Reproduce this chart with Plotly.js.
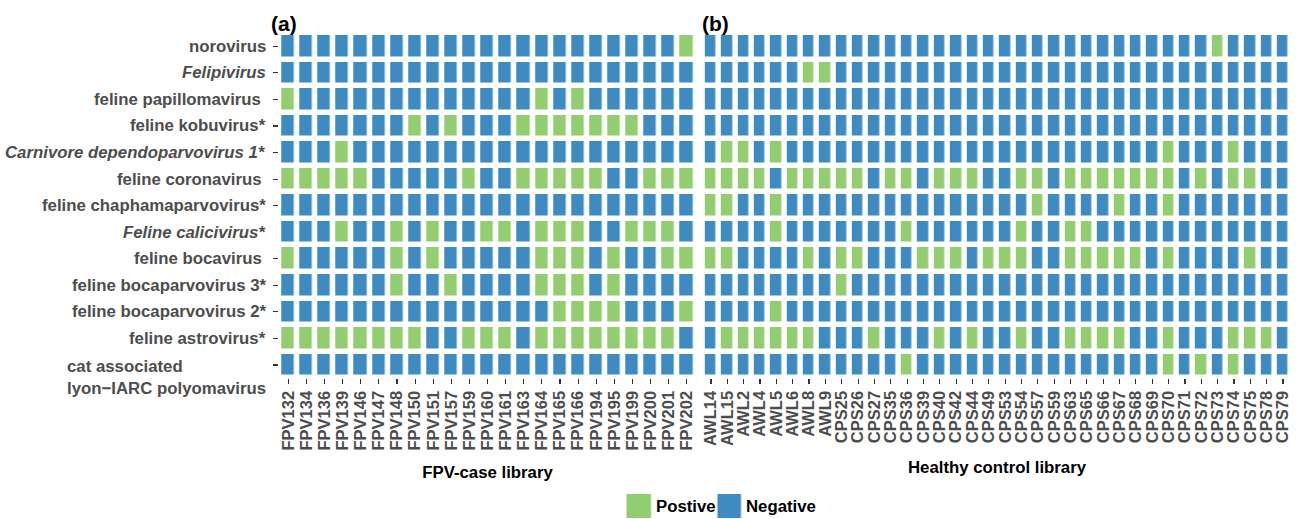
<!DOCTYPE html>
<html>
<head>
<meta charset="utf-8">
<script src="https://cdn.plot.ly/plotly-3.0.1.min.js"></script>
<style>html,body{margin:0;padding:0;background:#fff}#chart{width:1298px;height:519px}</style>
</head>
<body>
<div id="chart"></div>
<script>
// ---------------- data ----------------
const viruses = [
  'norovirus', 'Felipivirus', 'feline papillomavirus', 'feline kobuvirus*',
  'Carnivore dependoparvovirus 1*', 'feline coronavirus', 'feline chaphamaparvovirus*',
  'Feline calicivirus*', 'feline bocavirus', 'feline bocaparvovirus 3*',
  'feline bocaparvovirus 2*', 'feline astrovirus*', 'cat associated lyon\u2212IARC polyomavirus'
];
const virusLabels = [
  'norovirus', '<i>Felipivirus</i>', 'feline papillomavirus\u00a0', 'feline kobuvirus*',
  '<i>Carnivore dependoparvovirus 1*</i>', 'feline coronavirus\u00a0', 'feline chaphamaparvovirus*',
  '<i>Feline calicivirus*</i>', 'feline bocavirus\u00a0', 'feline bocaparvovirus 3*',
  'feline bocaparvovirus 2*', 'feline astrovirus*', 'cat associated<br>lyon\u2212IARC polyomavirus'
];
const untickedVirus = 'Feline calicivirus*';

const fpvSamples = ['FPV132','FPV134','FPV136','FPV139','FPV146','FPV147','FPV148','FPV150','FPV151',
  'FPV157','FPV159','FPV160','FPV161','FPV163','FPV164','FPV165','FPV166','FPV194','FPV195',
  'FPV199','FPV200','FPV201','FPV202'];
const controlSamples = ['AWL14','AWL15','AWL2','AWL4','AWL5','AWL6','AWL8','AWL9','CPS25','CPS26',
  'CPS27','CPS35','CPS36','CPS39','CPS40','CPS42','CPS44','CPS49','CPS53','CPS54','CPS57','CPS59',
  'CPS63','CPS65','CPS66','CPS67','CPS68','CPS69','CPS70','CPS71','CPS72','CPS73','CPS74','CPS75',
  'CPS78','CPS79'];

// 1 = positive, 0 = negative ; one row per virus, one column per sample
const fpvStatus = [
  [0,0,0,0,0,0,0,0,0,0,0,0,0,0,0,0,0,0,0,0,0,0,1],
  [0,0,0,0,0,0,0,0,0,0,0,0,0,0,0,0,0,0,0,0,0,0,0],
  [1,0,0,0,0,0,0,0,0,0,0,0,0,0,1,0,1,0,0,0,0,0,0],
  [0,0,0,0,0,0,0,1,0,1,0,0,0,1,1,1,1,1,1,1,0,0,0],
  [0,0,0,1,0,0,0,0,0,0,0,0,0,0,0,0,0,0,0,0,0,0,0],
  [1,1,1,1,1,0,0,0,0,0,1,0,0,1,1,1,1,1,0,0,1,1,1],
  [0,0,0,0,0,0,0,0,0,0,0,0,0,0,0,0,0,0,0,0,0,0,0],
  [0,0,0,1,0,0,1,0,1,0,0,1,1,0,1,1,1,0,0,1,1,1,0],
  [1,0,0,0,0,0,1,0,1,0,0,0,0,0,1,1,1,0,1,0,0,1,1],
  [0,0,0,0,0,0,1,0,0,1,0,0,0,0,1,1,1,0,1,0,0,0,0],
  [0,0,0,0,0,0,0,0,0,0,0,0,0,0,0,1,1,1,1,0,0,0,1],
  [1,1,1,1,1,1,1,1,0,0,1,1,1,0,1,1,1,1,1,1,1,1,0],
  [0,0,0,0,0,0,0,0,0,0,0,0,0,0,0,0,0,0,0,0,0,0,0]
];
const controlStatus = [
  [0,0,0,0,0,0,0,0, 0,0,0,0,0,0,0,0, 0,0,0,0,0,0,0,0, 0,0,0,0,0,0,0,1, 0,0,0,0],
  [0,0,0,0,0,0,1,1, 0,0,0,0,0,0,0,0, 0,0,0,0,0,0,0,0, 0,0,0,0,0,0,0,0, 0,0,0,0],
  [0,0,0,0,0,0,0,0, 0,0,0,0,0,0,0,0, 0,0,0,0,0,0,0,0, 0,0,0,0,0,0,0,0, 0,0,0,0],
  [0,0,0,0,0,0,0,0, 0,0,0,0,0,0,0,0, 0,0,0,0,0,0,0,0, 0,0,0,0,0,0,0,0, 0,0,0,0],
  [0,1,1,0,1,0,0,0, 0,0,0,0,0,0,0,0, 0,0,0,0,0,0,0,0, 0,0,0,0,1,0,0,0, 1,0,0,0],
  [1,1,1,1,0,1,1,1, 1,1,0,1,1,0,1,1, 1,0,0,1,1,0,1,1, 1,1,1,1,1,0,1,0, 1,1,0,0],
  [1,1,0,0,1,0,0,0, 0,0,0,0,0,0,0,0, 0,0,0,0,1,0,0,0, 0,1,0,0,1,0,0,0, 0,0,0,0],
  [0,0,0,0,1,0,0,0, 0,0,0,0,1,0,0,0, 0,0,0,1,0,0,1,1, 0,0,0,0,0,0,0,0, 0,0,0,0],
  [1,1,0,0,0,0,1,0, 1,1,0,0,0,1,1,1, 0,1,1,1,0,0,1,1, 1,1,1,0,1,0,0,0, 0,1,0,0],
  [0,0,0,0,0,0,0,0, 1,0,0,0,0,0,0,0, 0,0,0,0,0,0,0,0, 0,0,0,0,0,0,0,0, 0,0,0,0],
  [0,0,0,0,1,0,0,0, 0,0,0,0,0,0,0,0, 0,0,0,0,0,0,0,0, 0,0,0,0,0,0,0,0, 0,0,0,0],
  [0,1,1,1,1,1,1,0, 0,0,1,0,0,0,1,0, 1,0,0,1,0,0,1,1, 1,1,0,0,1,0,0,0, 1,1,1,0],
  [0,0,0,0,0,0,0,0, 0,0,0,0,1,0,0,0, 0,0,0,0,0,0,0,0, 0,0,0,0,1,0,1,0, 1,0,0,0]
];

const legendLabels = ['Postive', 'Negative'];
const legendValues = [1, 0];
const panelTitles = ['(a)', '(b)'];
const axisTitles = ['FPV-case library', 'Healthy control library'];

// ---------------- styling ----------------
const W = 1298, H = 519;
const FONT = 'Liberation Sans, Arial, Helvetica, sans-serif';
const POS = '#92CD6F', NEG = '#3E8BC1';
const colorscale = [[0, NEG], [1, POS]];
const px = v => v / W;
const py = v => 1 - v / H;

const yDomain = [py(378.3), py(33.0)];
const xDomA = [px(279.25), px(695.8)];
const xDomB = [px(702.8), px(1291.2)];

const tickFont = {family: FONT, size: 16.5, color: '#4D4D4D', weight: 'bold'};
const titleFont = {family: FONT, size: 16.8, color: '#000000', weight: 'bold'};
const tagFont = {family: FONT, size: 21, color: '#000000', weight: 'bold'};

const heatA = {
  type: 'heatmap', x: fpvSamples, y: viruses, z: fpvStatus,
  xaxis: 'x', yaxis: 'y', colorscale: colorscale, zmin: 0, zmax: 1,
  showscale: false, xgap: 5.5, ygap: 5.5, hoverinfo: 'x+y+z'
};
const heatB = {
  type: 'heatmap', x: controlSamples, y: viruses, z: controlStatus,
  xaxis: 'x2', yaxis: 'y', colorscale: colorscale, zmin: 0, zmax: 1,
  showscale: false, xgap: 5.5, ygap: 5.5, hoverinfo: 'x+y+z'
};
const legendHeat = {
  type: 'heatmap', x: [0, 1], y: [0], z: [legendValues],
  xaxis: 'x3', yaxis: 'y3', colorscale: colorscale, zmin: 0, zmax: 1,
  showscale: false, xgap: 66.5, ygap: 0, hoverinfo: 'skip'
};

const xBase = {
  type: 'category', anchor: 'y', tickangle: -90, ticks: 'outside', ticklen: 5,
  tickwidth: 1.1, tickcolor: '#333333', tickfont: tickFont, showgrid: false,
  zeroline: false, showline: false, fixedrange: true, automargin: false, tickmode: 'array'
};

const annotations = [];
viruses.forEach((v, i) => {
  const multi = virusLabels[i].indexOf('<br>') >= 0;
  annotations.push({
    xref: 'paper', yref: 'y', x: px(268), y: i, xanchor: 'right', yanchor: 'middle',
    text: virusLabels[i], showarrow: false, align: multi ? 'left' : 'right',
    yshift: multi ? -12 : 0,
    font: {family: FONT, size: 16.8, color: '#4D4D4D', weight: 'bold'}
  });
});
annotations.push({xref: 'paper', yref: 'paper', x: px(269), y: py(24), xanchor: 'left', yanchor: 'middle',
  text: panelTitles[0], showarrow: false, font: tagFont});
annotations.push({xref: 'paper', yref: 'paper', x: px(700), y: py(24), xanchor: 'left', yanchor: 'middle',
  text: panelTitles[1], showarrow: false, font: tagFont});
legendLabels.forEach((t, i) => {
  annotations.push({xref: 'x3', yref: 'paper', x: i, y: py(506), xanchor: 'left', yanchor: 'middle',
    xshift: 15, text: t, showarrow: false, font: titleFont});
});

const layout = {
  width: W, height: H, margin: {l: 0, r: 0, t: 0, b: 0},
  paper_bgcolor: '#ffffff', plot_bgcolor: 'rgba(0,0,0,0)', showlegend: false,
  xaxis: Object.assign({}, xBase, {domain: xDomA, tickvals: fpvSamples, ticktext: fpvSamples,
    title: {text: axisTitles[0], font: titleFont, standoff: 16}}),
  xaxis2: Object.assign({}, xBase, {domain: xDomB, tickvals: controlSamples, ticktext: controlSamples,
    title: {text: axisTitles[1], font: titleFont, standoff: 16}}),
  yaxis: {
    domain: yDomain, anchor: 'x', type: 'category', categoryorder: 'array', categoryarray: viruses,
    autorange: 'reversed', tickmode: 'array', tickvals: viruses.filter(v => v !== untickedVirus),
    showticklabels: false, ticks: 'outside', ticklen: 5, tickwidth: 1.1, tickcolor: '#333333',
    showgrid: false, zeroline: false, showline: false, fixedrange: true
  },
  xaxis3: {domain: [px(593.5), px(774.5)], anchor: 'y3', range: [-0.5, 1.5], visible: false, fixedrange: true},
  yaxis3: {domain: [py(518), py(494)], anchor: 'x3', range: [-0.5, 0.5], visible: false, fixedrange: true},
  annotations: annotations
};

Plotly.newPlot('chart', [heatA, heatB, legendHeat], layout, {displayModeBar: false, staticPlot: true});
</script>
</body>
</html>
